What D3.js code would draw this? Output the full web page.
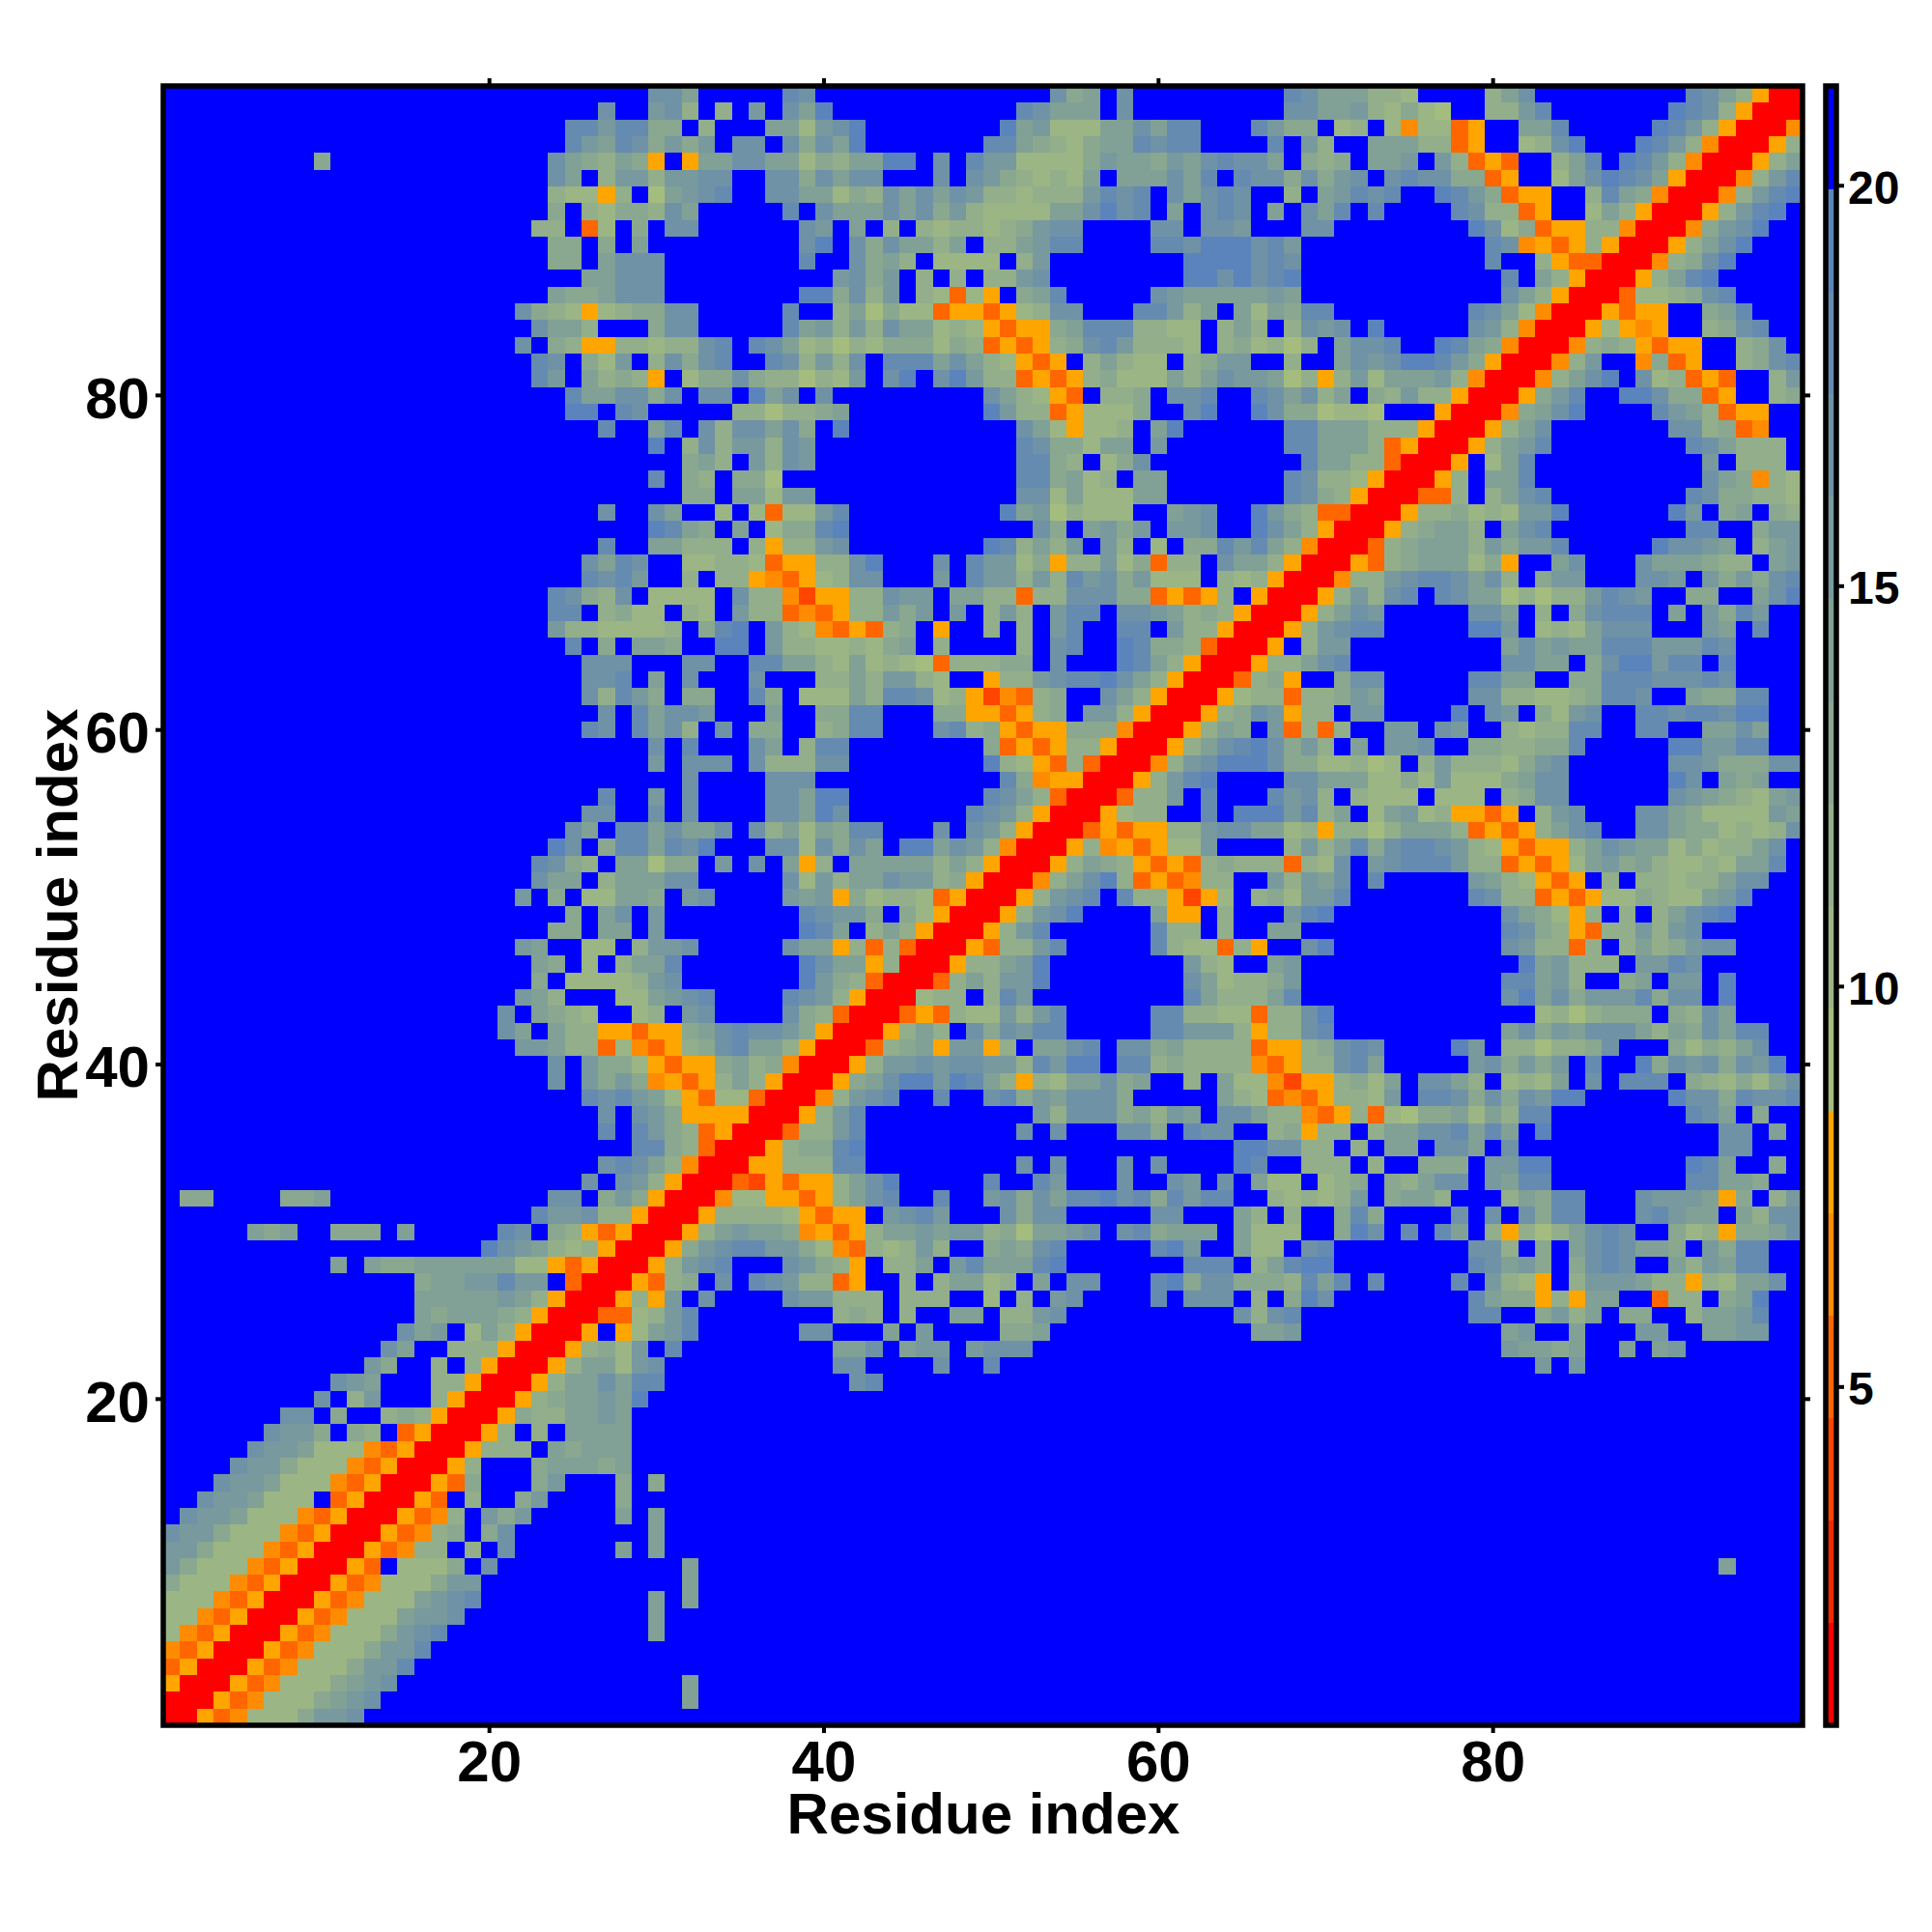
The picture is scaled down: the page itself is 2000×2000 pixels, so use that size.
<!DOCTYPE html>
<html><head><meta charset="utf-8">
<script src="https://cdn.jsdelivr.net/npm/d3@7"></script>
<style>html,body{margin:0;background:#fff}svg{display:block}text{font-family:"Liberation Sans",Arial,sans-serif;font-weight:bold;fill:#000}</style>
</head><body><svg id="c" width="2000" height="2000"></svg>
<script>
// Distance-map bins. Each row (top = residue 98) is a list of "startColumn:levels".
// Levels: r a o n y = red..amber bins, 1-9 = green..steel-blue bins, unlisted or "." = top blue bin.
const rowsTopDown = [
"29:775 37:87 53:745.7 67:875553 73:32 79:357 91:8753yrr",
"26:7 29:673.3.6 37:759 51:87555.7 67:775563 73:2421 79:3368 90:9873yrrr",
"24:8868844.3 36:552679 50:956222557588 65:8644.23.2n22oy 81:558 89:9863yrrrn",
"24:865874646.77.74759 49:8854324558788 66:8.63..55533oy 81:2379 88:9863nrrry3",
"9:4 23:754354y.y 32:5577552435599.7 48:866 51:2222465546578775 68:434 72:556.63oyo 83:358 87:9863nrrry35",
"23:75.36636677 36:7747577 46:7 48:76432325.555758.87747467 73:787744oy 83:2579875yrrrn368",
"23:322y3.15678 36:77552437575 47:763323336878.75787 67:3 69:56878 76:9864oyy 85:3854nrrrn3689",
"23:4.3244375 37:8.75557574632222557978.5.787.5.758.8 77:8733oy 85:253yrrry3689",
"22:33.o2.4.77 38:76.5.3.3233234677 59:77.776 68:77 78:9724oyy33nrrrn4679",
"23:44.4.5 38:79.7475535.335688 59:887999786 79:87nyoy3yrrry3579",
"23:44.5777 38:8..7453.2222.36 61:9999787 79:8..3yoorrrn3479",
"25:55777 40:6746.3.3.3367 61:9979789 80:8.53yrrry3589",
"23:5445777 38:994736.32o2y.458 59:765555565 80:753yrrro223478",
"21:7432y234477 37:8 40:351422oyyoy2377 58:88635.525488 78:8752nrrryoyy..458",
"22:7553...477 37:856363755232yoyy458883322.353.3767.9 78:763nrrry2yny..3478",
"21:7.43yy3323378 35:87523132444243 49:oyoy347863332 63:342313 70:5778 76:9854nrrrn343yoyy 94:347",
"22:87.426.37478 36:873637.88857532yoy.35322 61:3466 67:3 70:576799864yrrrn36 88:n4oy 94:3478",
"22:86.5343y.24474331326 43:79.79633oyoy34 57:222535766513y36 72:255563nrrrn3579 88:723oyo 96:36",
"24:8557747.77.957.7 49:7532yo.334.778..875735.4 73:3633yrrry468 87:99744oy 96:34",
"24:99.87 34:3313345 49:9633oy2224..79..97441221 76:yrrrn4579 89:8653oyy",
"26:8 29:58.7377574.9 51:752y223.59 67:88555333yrrry357 90:7734on",
"29:9 31:37366376 51:8744255.6 67:885553oyrrry3568 91:875333",
"31:453.6376 51:8843.247 68:85533orrry.258 92:6.333",
"29:8 31:43.441 51:884523.55 67:87332yrrry3.558 92:754n32",
"31:44.55266 51:772522255 67:8743yrrroo3.3578 91:8744332",
"26:7 29:75..2.2o2268 50:95613222..567 65:9643oorrry334232669 90:96.45.43",
"29:9854.5.24489 52:74.5646.667 65:9753yrrry34553.578 91:88..466",
"26:8 29:55333.3y3367 49:983536.63.2.4486853nrrro34555364668 89:97765.356",
"25:7587..22332oyy3379 46:7.86624y33624o33.7553yrrryo3455524y 83:57 88:7555433.56",
"25:8786..3.33ynoy2377 46:6.86636386746222.323yrrrn3367887573.466 88:776.646478",
"23:87437.2222.733nayy33766 47:5533o3377744oyoy3.yrrry36 72:378.8755131336876 91:44..579",
"23:88.3422.32.633onoy33646 47:6.363.688.7765343yrrry3576 78:775.3.47888.5.6486",
"23:63322223.489.632noyo34.y 49:3.3.68..88.633yrrry36788 78:996.2325777...65.8",
"24:8.4.554..99.633223245.3 51:3.78..98443orrry.366 80:57565588866687",
"25:777 31:77 35:88553252321o33344.7 57:9853yrrry33578 80:7755.4799688.8",
"25:778.5.7 35:7 39:33536632..y3367889753yrrro34y..477 78:8855..4488877787",
"25:73864.44 35:84.2225388723yano34..753yrrry233o33465 78:77332234887..54488",
"26:7.85776 36:5 39:4488 46:44yyoy34.663yrrry3476y33.66 77:9.76.4267 88:88788799",
"25:87.8573.7.44 39:3488 46:7834yoyy444nrrry354.6o3o3 73:66.76..323388 88:88 92:5575",
"29:7.8 35:75.388 49:4oyoy33yrrry357897463.5 73:667..4433448 90:996688",
"29:6 31:777 35:733377 49:932yo3orrrn36799974422312.363332467 90:77644477",
"31:7 36:777 50:84nyyrrry3689 67:77555224262224577 90:97.545",
"26:8 29:6 31:7 36:77599 49:8753orrro336.8 66:8673.3222.222.3477 90:76543256",
"25:77 29:7 31:7 36:77597 48:8763yrrry233..8.9996835.25623yyoy.367 88:7754222265",
"24:75.8857557.73525488 46:7.763yrrroyoyy336775523y33135553oyoy3578 88:7754423237",
"23:97.4885879 36:7727475.995763nrrry3nyoy226 67:3635847887632yoyy3576552423357",
"22:8743.55144.6.7.5y3.55555 46:353yrrry3543yoyo34333o327.6 73:7888633oyoy2564532232558",
"22:755.355577 37:72635576634yrrrn35793oyon33..63657.8 78:6532yoy.3.33233577",
"21:6.4.22554.67 37:656y42332oyrrry3678.833yay2.342668 78:8733oyoy224322568",
"24:4.57.6 38:87664.42yrrry3679 59:5yy.3 67:689 80:7542y3.3.35789",
"23:44.55.6 38:985.353yrrry368 59:833.3 66:55 80:8743yo336367",
"21:65..22.3667 37:755y3o3orrryo3368 59:8322o3y..79 80:7633o3.3534677",
"22:54.2.3558 38:9755y3rrry33569 61:632 66:56 81:956333.6687",
"22:4.2222367 38:9643orrro353669 61:7523346 80:88563..45.66.9",
"21:653...225678 37:8763yrrr233.386 61:8533358 80:795746668477.9",
"20:7.5432..23.67 37:743orrroyo3226368 59:883322o3379 82:2313444.4375",
"20:75.533yyoyy45787764yrrry353.747688 59:886663y3378 80:5746577753547588",
"21:66533o2noy3478553yrrro345y66y3.5578.77453333oyy34787 77:96.3313347...424357",
"23:7.6442yoyy4534nrrry36676776638699.88343333noy33785 78:674646.8..947674769",
"23:7.6464nyoy353yrrry4579969853y3255745..3.522nayy342 73:5.7753.2325.7.888.4324257",
"25:878652yo22orrrn3678..8..784657774 63:532onoy3326.8874747699 90:97748778",
"26:7.764yyyyrrry368 52:6377745365.77533noy3o2144525388 91:875.4",
"26:8.8643oyrrro3368 51:7.7 57:774.877..34y33.355778585.9 93:77 96:5",
"28:8843orrry34489 64:997733.3.55.775.7 93:77",
"26:78753nrrryy33388 51:7.7 57:7.7 64:98..333.3 75:444.6699 91:985..4",
"25:7.763yrrroayoyy3579 49:8..86 57:7 60:76.7.522.234.43577.6588 91:88554",
"1:44 7:445 23:77.464yrrrn22yyoy3578..8..674758897848688..323236.4553...35488 88:76665y4.36",
"22:866733yrrry33332yoyy.6786 50:7477 59:77 64:53.3 70:484 77:7.7.7488 88:78655.5377",
"5:545 10:444 14:5 20:87.43yoyrrry356554nyoy35565663415567.784555.5222..497.8.85.3y3135787..423y4457",
"19:9765323yrrry467886642no32363..45478 59:896 64:522.78 78:773.4.5787554.6488",
"10:5 12:54455555522yoyrrry3678 37:7643y.335.6855589 61:888.35899 78:87564.4787..536588",
"15:45566866.orrryo34.7.87633oy..3.35523.5.77 59:894774443858.8 77:8.632y.3666533y32557",
"15:55555653yrrry3y6.7 37:766333.333..2.3.67 59:8.777.3.497 78:8544y3y55..o33.459",
"15:5455543yrrroo2368 40:343.3 47:55.3367 64:7378 78:88..4635.44..35568",
"14:756.253yrrry.y2568 38:77 43:5 45:6 50:445 65:556 80:56 84:5 88:66 92:5566",
"13:75..333yrrry3426.8 40:557 44:566 48:67 50:77 80:655 83:45 87:5 89:56",
"12:64..3.3yrrry355267 40:77 46:7 49:8 82:6 84:6",
"10:765...33yrrry3557588 41:78",
"9:7.36...3yrrry3455659",
"7:77.4..343yrrry4335565",
"6:7664.43.oyrrry3.3.5555",
"5:7665222noyrrry333.54555",
"4:7664222noyrrry3...455545",
"3:7665222noyrrryo4...46 27:4 29:4",
"2:7665222.oyrrryo.3..46 27:4",
"1:7665222noyrrryon3.646 27:5 29:5",
"0:7664222noyrrryon34.47 29:5",
"0:664222noyrrryon33.3.7 27:5 29:5",
"0:64222noyrrryo.2224.7 31:5 93:5",
"0:4222noyrrryon222466 31:5",
"0:222noyrrryon2225678 29:5 31:5",
"0:22noyrrryon2225667 29:5",
"0:2noyrrryon2224678 29:5",
"0:noyrrryon2224668",
"0:oyrrryon2224668",
"0:yrrryon2224567 31:5",
"0:rrryon2224567 31:5",
"0:rryon2224667"
];
const binColors = ["#ff0000","#f02a00","#ff4500","#ff6600","#ff8c00","#ffa500",
 "#a4bd7f","#9bb585","#93ae8a","#8aa790","#81a096","#78999d","#6f92a6","#658bb0","#5b84bc","#0000ff"];
const levelBins = {r:0,a:2,o:3,n:4,y:5,"1":6,"2":7,"3":8,"4":9,"5":10,"6":11,"7":12,"8":13,"9":14,".":15};
const residues = d3.range(1,99);
const axisTicks = [20,40,60,80];
const barTicks = [5,10,15,20];
const valueDomain = [0.77,21.24];
const xTitle = "Residue index", yTitle = "Residue index";

const L=169,R=1866,T=89,B=1786;
const svg=d3.select("#c");
const x=d3.scaleBand().domain(residues).range([L,R]);
const y=d3.scaleBand().domain(residues).range([B,T]);
const color=d3.scaleQuantize().domain(valueDomain).range(binColors);
const binWidth=(valueDomain[1]-valueDomain[0])/binColors.length;

const cells=[];
rowsTopDown.forEach((row,i)=>{
  const line=new Array(98).fill(".");
  row.split(" ").forEach(tok=>{
    const [s,str]=tok.split(":");
    [...str].forEach((ch,k)=>{const c=+s+k; if(c<98) line[c]=ch;});
  });
  line.forEach((ch,c)=>cells.push({xr:c+1,yr:98-i,v:valueDomain[0]+(levelBins[ch]+0.5)*binWidth}));
});
svg.append("g").selectAll("rect").data(cells).join("rect")
  .attr("x",d=>x(d.xr)).attr("y",d=>y(d.yr))
  .attr("width",x.bandwidth()+0.5).attr("height",y.bandwidth()+0.5)
  .attr("fill",d=>color(d.v)).attr("shape-rendering","crispEdges");

svg.append("rect").attr("x",L).attr("y",T).attr("width",R-L).attr("height",B-T)
  .attr("fill","none").attr("stroke","#000").attr("stroke-width",5.5);

function styleAxis(g,fs){
  g.select(".domain").remove();
  g.selectAll(".tick line").attr("stroke","#000").attr("stroke-width",4);
  g.selectAll(".tick text").style("font-size",fs+"px").attr("fill","#000");
}
const tl=8,pad=6;
svg.append("g").attr("transform",`translate(0,${B})`)
  .call(d3.axisBottom(x).tickValues(axisTicks).tickSize(tl).tickPadding(7)).call(styleAxis,60);
svg.append("g").attr("transform",`translate(0,${T})`)
  .call(d3.axisTop(x).tickValues(axisTicks).tickSize(tl).tickFormat("")).call(styleAxis,60);
svg.append("g").attr("transform",`translate(${L},0)`)
  .call(d3.axisLeft(y).tickValues(axisTicks).tickSize(tl).tickPadding(pad)).call(styleAxis,60)
  .selectAll(".tick text").attr("dy","0.39em");
svg.append("g").attr("transform",`translate(${R},0)`)
  .call(d3.axisRight(y).tickValues(axisTicks).tickSize(tl).tickFormat("")).call(styleAxis,60);

svg.append("text").attr("x",1018).attr("y",1898).attr("text-anchor","middle")
  .style("font-size","60px").text(xTitle);
svg.append("text").attr("transform","translate(80,937) rotate(-90)").attr("text-anchor","middle")
  .style("font-size","60px").text(yTitle);

// colour bar
const by=d3.scaleLinear().domain(valueDomain).range([B,T]);
const barX=1890,barW=11;
const bins=color.range().map(c=>color.invertExtent(c));
svg.append("g").selectAll("rect").data(bins).join("rect")
  .attr("x",barX).attr("width",barW)
  .attr("y",d=>by(d[1])).attr("height",d=>by(d[0])-by(d[1])+0.5)
  .attr("fill",d=>color((d[0]+d[1])/2)).attr("shape-rendering","crispEdges");
svg.append("rect").attr("x",barX).attr("y",T).attr("width",barW).attr("height",B-T)
  .attr("fill","none").attr("stroke","#000").attr("stroke-width",5.5);
svg.append("g").attr("transform",`translate(${barX+barW+2},0)`)
  .call(d3.axisRight(by).tickValues(barTicks).tickSize(6).tickPadding(4)).call(styleAxis,48)
  .selectAll(".tick text").attr("dy","0.38em");
</script></body></html>
